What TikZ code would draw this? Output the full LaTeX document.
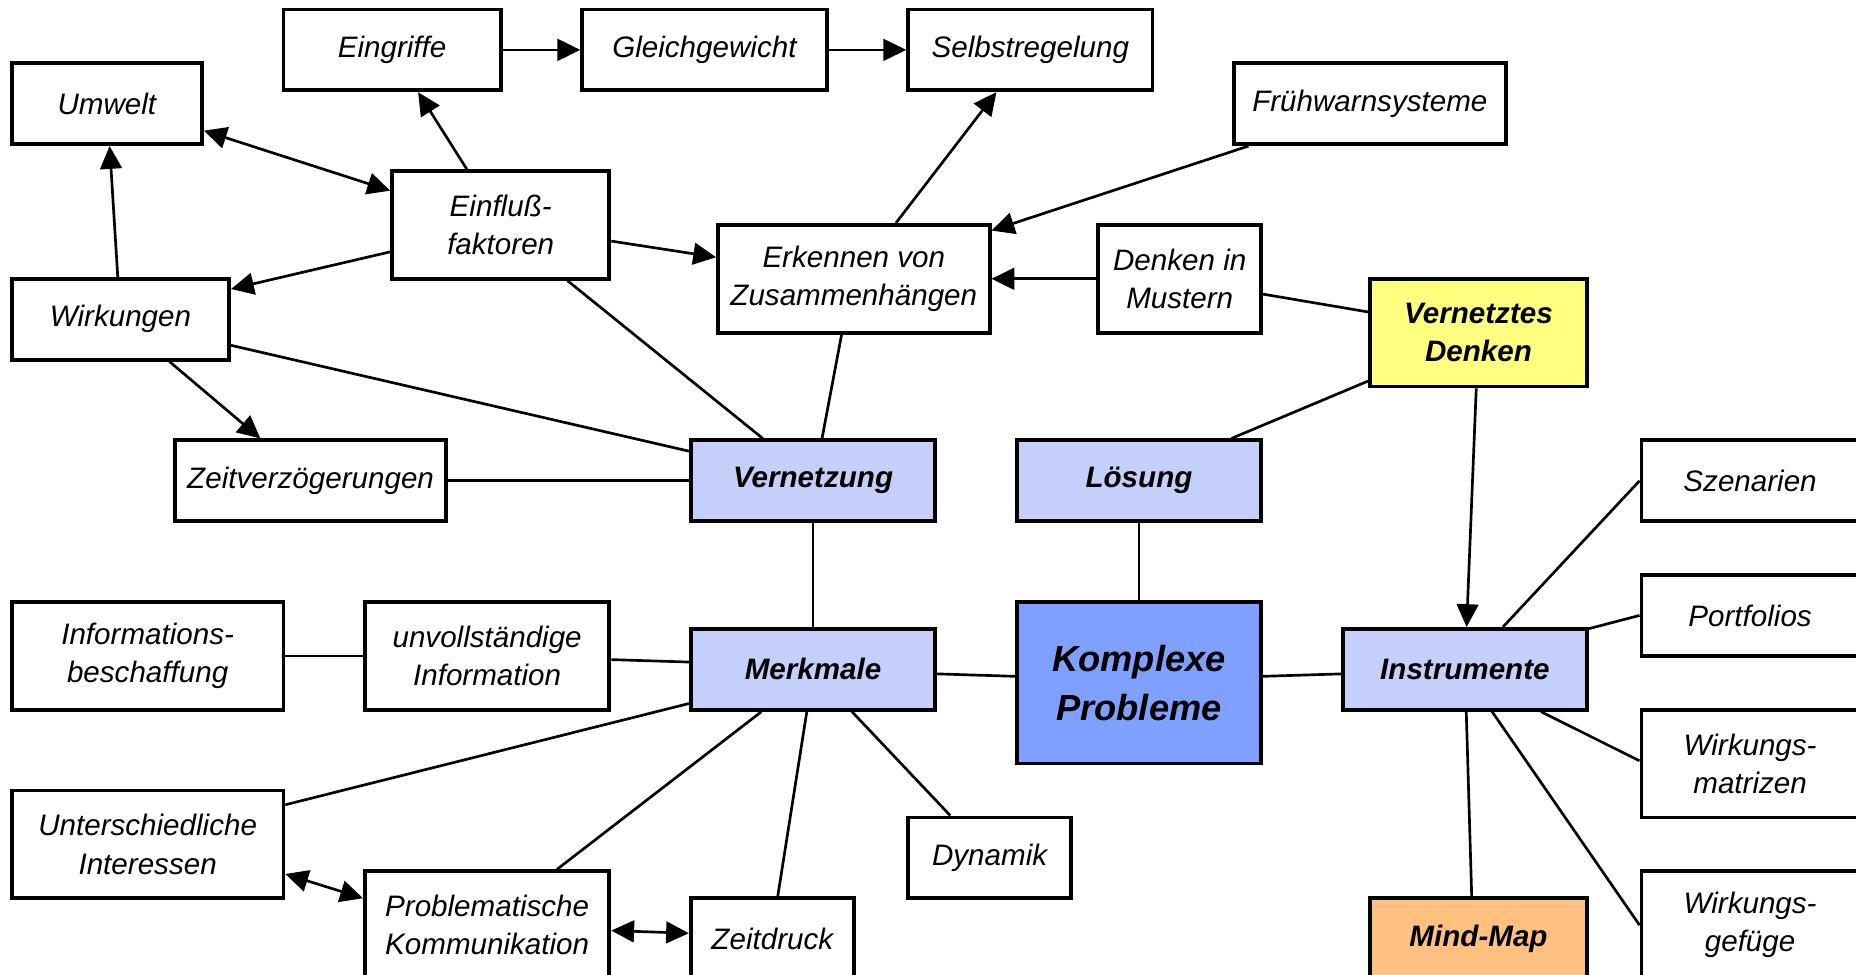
\documentclass[tikz,border=0pt]{standalone}
\usepackage{fontspec}
\setmainfont{Liberation Sans}
\usetikzlibrary{arrows.meta,calc}
\definecolor{netzblau}{RGB}{196,208,250}
\definecolor{kernblau}{RGB}{128,160,255}
\definecolor{gelb}{RGB}{255,255,128}
\definecolor{orangefeld}{RGB}{255,192,128}
\begin{document}
\begin{tikzpicture}[x=0.5cm,y=-0.4958cm,
  box/.style={draw,line width=2pt,fill=white,inner sep=0pt,align=center,
    font=\itshape\fontsize{15.5}{20}\selectfont},
  bx/.style 2 args={minimum width=#1*0.5cm,minimum height=#2*0.4958cm},
  kern/.style={box,fill=netzblau,font=\bfseries\itshape\fontsize{15.5}{20}\selectfont},
  verb/.style={line width=1.4pt},
  pfeil/.style={verb,-{Triangle[length=0.42cm,width=0.4cm]}},
  doppel/.style={verb,{Triangle[length=0.42cm,width=0.4cm]}-{Triangle[length=0.42cm,width=0.4cm]}}]
\useasboundingbox (-0.436,-0.352) rectangle (67.9,35.85);
\clip (-0.436,-0.352) rectangle (67.9,35.85);

\node[box,bx={8}{3}]  (eing)   at (14,1.5)   {Eingriffe};
\node[box,bx={9}{3}]  (glei)   at (25.5,1.5) {Gleichgewicht};
\node[box,bx={9}{3}]  (selb)   at (37.5,1.5) {Selbstregelung};
\node[box,bx={7}{3}]  (umw)    at (3.5,3.5)  {Umwelt};
\node[box,bx={10}{3}] (frueh)  at (50,3.5)   {Frühwarnsysteme};
\node[box,bx={8}{4}]  (einf)   at (18,8)     {Einfluß-\\faktoren};
\node[box,bx={10}{4}] (erk)    at (31,10)    {Erkennen von\\Zusammenhängen};
\node[box,bx={6}{4}]  (must)   at (43,10)    {Denken in\\Mustern};
\node[box,bx={8}{3}]  (wirk)   at (4,11.5)   {Wirkungen};
\node[kern,bx={8}{4},fill=gelb] (vden) at (54,12) {Vernetztes\\Denken};
\node[box,bx={10}{3}] (zeitv)  at (11,17.5)  {Zeitverzögerungen};
\node[kern,bx={9}{3}] (vnetz)  at (29.5,17.5) {Vernetzung};
\node[kern,bx={9}{3}] (loes)   at (41.5,17.5) {Lösung};
\node[box,bx={8}{3}]  (szen)   at (64,17.5)  {Szenarien};
\node[box,bx={10}{4}] (infb)   at (5,24)     {Informations-\\beschaffung};
\node[box,bx={9}{4}]  (unvo)   at (17.5,24)  {unvollständige\\Information};
\node[kern,bx={9}{3}] (merk)   at (29.5,24.5) {Merkmale};
\node[kern,bx={9}{6},fill=kernblau,font=\bfseries\itshape\fontsize{19}{25.5}\selectfont]
                      (kompl)  at (41.5,25)  {Komplexe\\Probleme};
\node[kern,bx={9}{3}] (instr)  at (53.5,24.5) {Instrumente};
\node[box,bx={8}{3}]  (portf)  at (64,22.5)  {Portfolios};
\node[box,bx={8}{4}]  (wmat)   at (64,28)    {Wirkungs-\\matrizen};
\node[box,bx={10}{4}] (inter)  at (5,31)     {Unterschiedliche\\Interessen};
\node[box,bx={6}{3}]  (dyn)    at (36,31.5)  {Dynamik};
\node[box,bx={9}{4}]  (komm)   at (17.5,34)  {Problematische\\Kommunikation};
\node[box,bx={6}{3}]  (zdruck) at (28,34.5)  {Zeitdruck};
\node[kern,bx={8}{3},fill=orangefeld] (mmap) at (54,34.5) {Mind-Map};
\node[box,bx={8}{4}]  (wgef)   at (64,34)    {Wirkungs-\\gefüge};

% obere Kette
\draw[pfeil] (eing) -- (glei);
\draw[pfeil] (glei) -- (selb);
\draw[pfeil] ($(einf.north)+(-1.25,0)$) -- ($(eing.south)+(0.96,0)$);
\draw[doppel] ($(umw.east)+(0,1)$) -- ($(einf.north west)+(0,0.8)$);
\draw[pfeil] ($(wirk.north)+(-0.1,0)$) -- ($(umw.south)+(0.1,0)$);
\draw[pfeil] ($(einf.west)+(0,1)$) -- ($(wirk.north east)+(0,0.45)$);
\draw[pfeil] ($(einf.east)+(0,0.6)$) -- ($(erk.west)+(0,-0.8)$);
\draw[pfeil] ($(erk.north)+(1.55,0)$) -- ($(selb.south)+(-1.25,0)$);
\draw[pfeil] ($(frueh.south west)+(0.6,0)$) -- ($(erk.north east)+(0,0.28)$);
\draw[pfeil] (must) -- (erk);
\draw[verb] ($(must.east)+(0,0.57)$) -- ($(vden.west)+(0,-0.77)$);
\draw[verb] ($(vden.west)+(0,1.8)$) -- ($(loes.north)+(3.4,0)$);
\draw[pfeil] (vden) -- (instr);
\draw[pfeil] ($(wirk.south)+(1.8,0)$) -- ($(zeitv.north)+(-1.85,0)$);

% Vernetzung
\draw[verb] ($(wirk.east)+(0,0.97)$) -- ($(vnetz.west)+(0,-1.1)$);
\draw[verb] ($(einf.south)+(2.46,0)$) -- ($(vnetz.north)+(-1.85,0)$);
\draw[verb] ($(erk.south)+(-0.45,0)$) -- ($(vnetz.north)+(0.33,0)$);
\draw[verb] (zeitv) -- (vnetz);
\draw[verb] (vnetz) -- (merk);
\draw[verb] (loes) -- (kompl);
\draw[verb] ($(merk.east)+(0,0.17)$) -- ($(kompl.west)+(0,-0.24)$);
\draw[verb] ($(kompl.east)+(0,-0.24)$) -- ($(instr.west)+(0,0.17)$);

% Merkmale
\draw[verb] (infb) -- (unvo);
\draw[verb] ($(unvo.east)+(0,0.14)$) -- ($(merk.west)+(0,-0.27)$);
\draw[verb] ($(merk.south west)+(0,-0.3)$) -- ($(inter.north east)+(0,0.6)$);
\draw[verb] ($(merk.south)+(-1.9,0)$) -- ($(komm.north)+(2.57,0)$);
\draw[verb] ($(merk.south)+(-0.23,0)$) -- ($(zdruck.north)+(0.2,0)$);
\draw[verb] ($(merk.south)+(1.43,0)$) -- ($(dyn.north)+(-1.45,0)$);
\draw[doppel] ($(inter.east)+(0,1.1)$) -- ($(komm.west)+(0,-1)$);
\draw[doppel] ($(komm.east)+(0,0.2)$) -- ($(zdruck.west)+(0,-0.2)$);

% Instrumente
\draw[verb] ($(instr.north)+(1.4,0)$) -- (szen.west);
\draw[verb] ($(instr.north east)+(0,0.06)$) -- (portf.west);
\draw[verb] ($(instr.south)+(2.8,0)$) -- ($(wmat.west)+(0,-0.1)$);
\draw[verb] ($(instr.south)+(0.05,0)$) -- ($(mmap.north)+(-0.25,0)$);
\draw[verb] ($(instr.south)+(1,0)$) -- (wgef.west);
\end{tikzpicture}
\end{document}
